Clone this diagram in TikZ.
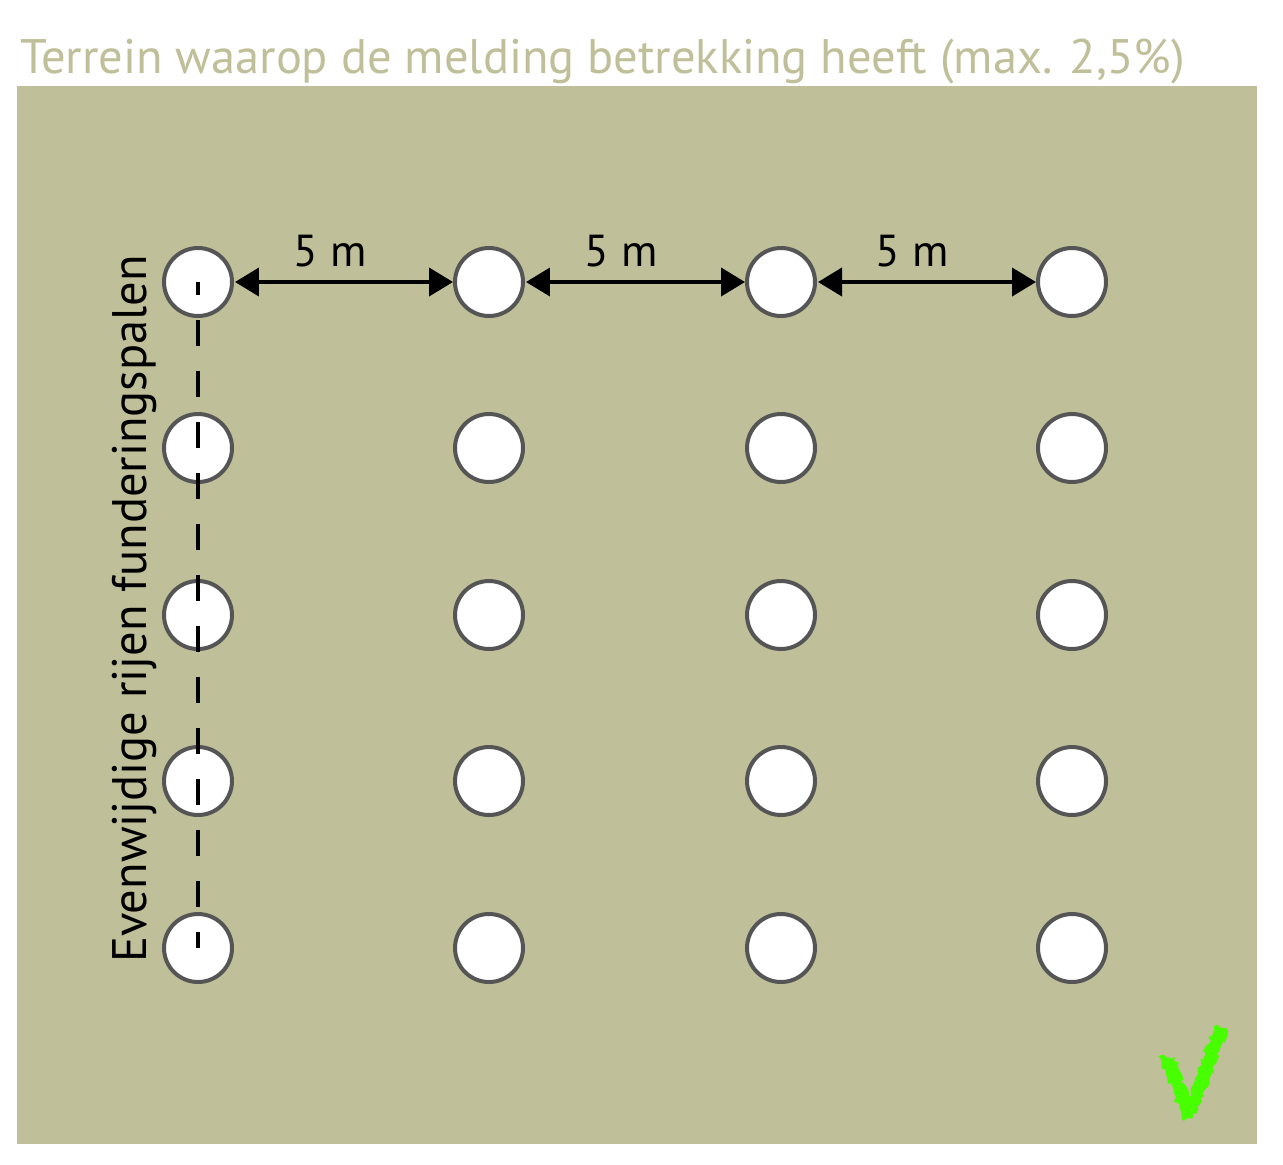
\documentclass[tikz,border=0pt]{standalone}
\usepackage{fontspec}
\setmainfont{PT Sans}
\usetikzlibrary{arrows.meta,decorations.pathmorphing}
\definecolor{terrain}{RGB}{191,191,153}
\definecolor{paalrand}{RGB}{85,85,85}
\definecolor{vinkje}{RGB}{72,255,0}
\tikzset{
	paal/.style={circle, draw=paalrand, fill=white, line width=0.08cm, minimum size=1.36cm, inner sep=0pt},
	maatlijn/.style={line width=0.08cm, {Triangle[length=0.48cm,width=0.56cm]}-{Triangle[length=0.48cm,width=0.56cm]}, shorten <=0.02cm},
	maat/.style={anchor=base, inner sep=0pt, font=\fontsize{25.5}{28}\selectfont},
	rijlijn/.style={line width=0.09cm, dash pattern=on 0.52cm off 0.5cm, dash phase=0.26cm}
}

\begin{document}
\begin{tikzpicture}[x=0.02cm, y=-0.02cm]
			%%%%% START %%%%%
			\useasboundingbox (0, 0) rectangle (1283, 1164);
			
			\node[anchor=base west, inner sep=0pt, text=terrain, font=\fontsize{27.6}{30}\selectfont] (titel) at (20, 73) {Terrein waarop de melding betrekking heeft (max. 2,5\%)};
			\fill[terrain] (17, 86) rectangle (1257, 1144);
			
			\node[paal] (r1k1) at (198, 282) {};
			\node[paal] (r1k2) at (489, 282) {};
			\node[paal] (r1k3) at (781, 282) {};
			\node[paal] (r1k4) at (1072, 282) {};
			
			\node[paal] (r2k1) at (198, 448) {};
			\node[paal] (r2k2) at (489, 448) {};
			\node[paal] (r2k3) at (781, 448) {};
			\node[paal] (r2k4) at (1072, 448) {};
			
			\node[paal] (r3k1) at (198, 615) {};
			\node[paal] (r3k2) at (489, 615) {};
			\node[paal] (r3k3) at (781, 615) {};
			\node[paal] (r3k4) at (1072, 615) {};
			
			\node[paal] (r4k1) at (198, 781) {};
			\node[paal] (r4k2) at (489, 781) {};
			\node[paal] (r4k3) at (781, 781) {};
			\node[paal] (r4k4) at (1072, 781) {};
			
			\node[paal] (r5k1) at (198, 948) {};
			\node[paal] (r5k2) at (489, 948) {};
			\node[paal] (r5k3) at (781, 948) {};
			\node[paal] (r5k4) at (1072, 948) {};
			
			\draw[rijlijn] (r1k1.center) -- (r5k1.center);
			
			\draw[maatlijn] (r1k1) -- (r1k2);
			\draw[maatlijn] (r1k2) -- (r1k3);
			\draw[maatlijn] (r1k3) -- (r1k4);
			\node[maat] (maat1) at (330, 266) {5 m};
			\node[maat] (maat2) at (621, 266) {5 m};
			\node[maat] (maat3) at (912, 266) {5 m};
			
			\node[rotate=90, anchor=base, inner sep=0pt, font=\fontsize{27.6}{30}\selectfont] (rijen) at (146, 609) {Evenwijdige rijen funderingspalen};
			
			\fill[vinkje, decorate, decoration={random steps, segment length=2pt, amplitude=1.3pt}] (1158, 1056) -- (1175, 1057) -- (1189, 1097) -- (1214, 1026) -- (1228, 1031) -- (1196, 1114) -- (1184, 1121) -- cycle;
			
			%%%%% END %%%%%
		\end{tikzpicture}
\end{document}
